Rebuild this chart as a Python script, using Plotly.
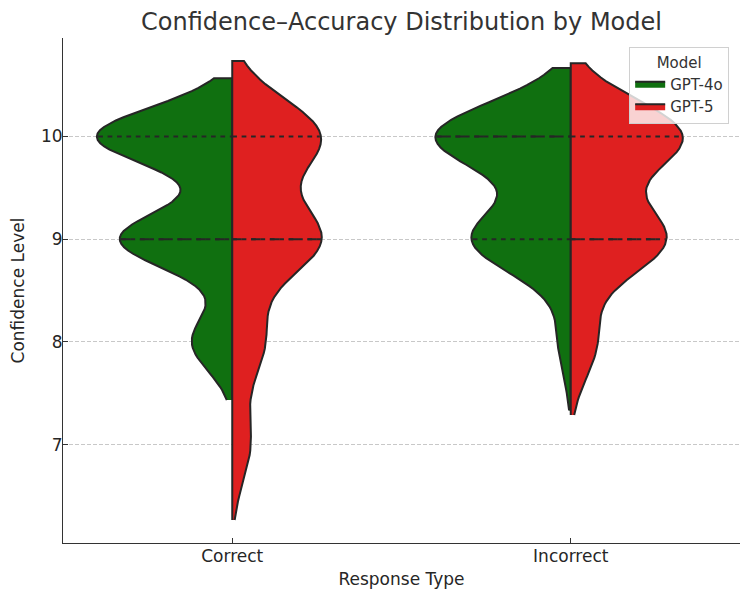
import numpy as np
import plotly.graph_objects as go

# ---------------- data ----------------
categories = ["Correct", "Incorrect"]
models = ["GPT-4o", "GPT-5"]
model_colors = ["#107010", "#df2020"]
confidence_levels = [7, 8, 9, 10]
# number of responses at each confidence level (7, 8, 9, 10)
gpt4o_correct_counts = [0, 14, 39, 47]
gpt5_correct_counts = [8, 14, 39, 39]
gpt4o_incorrect_counts = [0, 1, 8, 11]
gpt5_incorrect_counts = [0, 3, 11, 13]
y_tick_values = [7, 8, 9, 10]

counts = {
    ("Correct", "GPT-4o"): gpt4o_correct_counts,
    ("Correct", "GPT-5"): gpt5_correct_counts,
    ("Incorrect", "GPT-4o"): gpt4o_incorrect_counts,
    ("Incorrect", "GPT-5"): gpt5_incorrect_counts,
}

EDGE = "#262626"
TEXT = "#262626"
FONT = "DejaVu Sans"
HALF = 0.4          # half width of a split violin (width 0.8)
CUT = 2
GRID_N = 100


def samples_of(c):
    return np.repeat(np.array(confidence_levels, dtype=float), c)


def kde(s):
    n = len(s)
    bw = n ** (-1 / 5) * np.std(s, ddof=1)   # Scott's rule
    support = np.linspace(s.min() - CUT * bw, s.max() + CUT * bw, GRID_N)
    z = (support[:, None] - s[None, :]) / bw
    dens = np.exp(-0.5 * z ** 2).sum(axis=1) / (n * bw * np.sqrt(2 * np.pi))
    return support, dens


fig = go.Figure()
all_support = []

for i, cat in enumerate(categories):
    stats = {}
    for m in models:
        s = samples_of(counts[(cat, m)])
        sup, d = kde(s)
        stats[m] = (s, sup, d)
        all_support.append(sup)
    group_max = max(stats[m][2].max() for m in models)
    for j, m in enumerate(models):
        s, sup, d = stats[m]
        sd = d / group_max
        side = -1 if j == 0 else 1
        xs = list(i + side * sd * HALF) + [i, i]
        ys = list(sup) + [sup[-1], sup[0]]
        fig.add_trace(go.Scatter(
            x=xs, y=ys, mode="lines", fill="toself",
            fillcolor=model_colors[j],
            line=dict(color=EDGE, width=2),
            name=m, showlegend=(i == 0),
            hoverinfo="skip",
        ))
        q25, q50, q75 = np.percentile(s, [25, 50, 75])
        for val, dash in [(q25, "4.7px,4.7px"), (q50, "9.4px,9.4px"), (q75, "4.7px,4.7px")]:
            idx = np.argmin(np.abs(sup - val))
            w = HALF * sd[idx] * 0.99
            if side < 0:
                lx = [i - w, i]
            else:
                lx = [i, i + w]
            fig.add_trace(go.Scatter(
                x=lx, y=[val, val], mode="lines",
                line=dict(color=EDGE, width=2, dash=dash),
                showlegend=False, hoverinfo="skip",
            ))

lo = min(s.min() for s in all_support)
hi = max(s.max() for s in all_support)
pad = 0.05 * (hi - lo)

fig.update_layout(
    width=750, height=600,
    margin=dict(l=63, r=10, t=38, b=57),
    paper_bgcolor="white", plot_bgcolor="white",
    font=dict(family=FONT, color=TEXT, size=17),
    title=dict(
        text="Confidence–Accuracy Distribution by Model",
        x=0.5, xref="paper", xanchor="center",
        y=1 - 22 / 600, yref="container", yanchor="middle",
        font=dict(size=24, color="#333333", family=FONT),
    ),
    legend=dict(
        title=dict(text="Model", side="top center", font=dict(size=15, color="#333333")),
        font=dict(size=15, color="#333333"),
        x=0.984, y=0.982, xanchor="right", yanchor="top",
        bgcolor="rgba(255,255,255,0.8)", bordercolor="#d0d0d0", borderwidth=1,
        itemwidth=30, tracegroupgap=0,
    ),
    showlegend=True,
)

fig.update_xaxes(
    range=[-0.5, len(categories) - 0.5],
    tickvals=list(range(len(categories))), ticktext=categories,
    showgrid=False, zeroline=False,
    showline=True, linecolor="#333333", linewidth=1.1,
    ticks="inside", ticklen=5, tickwidth=1.1, tickcolor="#333333",
    tickfont=dict(size=17), ticklabelstandoff=-2,
    title=dict(text="Response Type", font=dict(size=17), standoff=7),
)
fig.update_yaxes(
    range=[lo - pad, hi + pad],
    tickvals=y_tick_values,
    showgrid=True, gridcolor="#c8c8c8", griddash="4px,2px", gridwidth=1,
    zeroline=False,
    showline=True, linecolor="#333333", linewidth=1.1,
    ticks="inside", ticklen=5, tickwidth=1.1, tickcolor="#333333",
    tickfont=dict(size=17), ticklabelstandoff=-4,
    layer="above traces",
    title=dict(text="Confidence Level", font=dict(size=17), standoff=11),
)

fig.write_html("out.html")
